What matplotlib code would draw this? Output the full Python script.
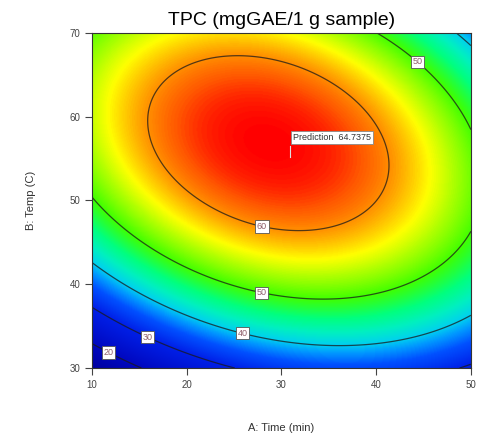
import numpy as np
import matplotlib
matplotlib.use("Agg")
import matplotlib.pyplot as plt
from matplotlib.colors import LinearSegmentedColormap, Normalize

plt.rcParams['font.family'] = ['Liberation Sans', 'DejaVu Sans']

# ---- data (quadratic response-surface model, coded factors) ----
time_range = [10, 50]          # A: Time (min)
temp_range = [30, 70]          # B: Temp (C)
coef_names = ['b0', 'A', 'B', 'AB', 'A2', 'B2']
coef_values = [62.6, 0.9, 11.8, -7.5, -12.1, -18.0]

contour_levels = [20, 30, 40, 50, 60]
# where each contour label box sits (time, temp)
label_time = [11.9, 16.0, 25.9, 27.9, 27.9, 44.6]
label_temp = [32.2, 34.0, 34.2, 39.0, 46.7, 66.9]

pred_time = 30.9
pred_temp = 55.2
pred_value = 64.7375

# ---- surface ----
coef = dict(zip(coef_names, coef_values))
t = np.linspace(time_range[0], time_range[1], 400)
T = np.linspace(temp_range[0], temp_range[1], 400)
tt, TT = np.meshgrid(t, T)
A = (tt - np.mean(time_range)) / (np.diff(time_range)[0] / 2)
B = (TT - np.mean(temp_range)) / (np.diff(temp_range)[0] / 2)
z = (coef['b0'] + coef['A'] * A + coef['B'] * B + coef['AB'] * A * B
     + coef['A2'] * A ** 2 + coef['B2'] * B ** 2)

# Design-Expert like colour ramp, anchored at response values
zmin, zmax = z.min(), z.max()
anchors = [(zmin, '#0000a0'), (20, '#0008c0'), (30, '#0020e8'), (35, '#0050ff'),
           (38, '#0098ff'), (40, '#00d0f0'), (43, '#00f0c0'), (46, '#00ff80'),
           (50, '#40ff00'), (54, '#b0ff00'), (56.5, '#ffff00'), (58.5, '#ffc000'),
           (60, '#ff9000'), (62, '#ff5800'), (63.5, '#ff2000'), (zmax, '#ff0000')]
cmap = LinearSegmentedColormap.from_list(
    'de', [((v - zmin) / (zmax - zmin), c) for v, c in anchors])

fig = plt.figure(figsize=(4.81, 4.45), dpi=100)
ax = fig.add_axes([0.191, 0.173, 0.788, 0.753])

ax.imshow(z, origin='lower', aspect='auto', cmap=cmap,
          norm=Normalize(zmin, zmax),
          extent=[time_range[0], time_range[1], temp_range[0], temp_range[1]],
          interpolation='bilinear')
cs = ax.contour(tt, TT, z, levels=contour_levels, colors='#1a1a1a',
                linewidths=0.9, alpha=0.75)
labels = ax.clabel(cs, fmt='%d', fontsize=6.5, inline=False,
                   manual=list(zip(label_time, label_temp)), colors='#6a2a3a')
for lb in labels:
    lb.set_rotation(0)
    lb.set_bbox(dict(boxstyle='square,pad=0.18', fc='white', ec='#555555', lw=0.6))

# prediction flag
ax.plot([pred_time, pred_time], [pred_temp, pred_temp + 1.3], color='#dddddd', lw=0.8)
ax.text(pred_time + 0.3, pred_temp + 2.3, f'Prediction  {pred_value}', fontsize=6.5,
        color='#333333', va='center', ha='left',
        bbox=dict(boxstyle='square,pad=0.2', fc='white', ec='#888888', lw=0.6))

ax.set_xlim(time_range)
ax.set_ylim(temp_range)
ax.set_xticks([10, 20, 30, 40, 50])
ax.set_yticks([30, 40, 50, 60, 70])
ax.tick_params(labelsize=7, labelcolor='#444444', color='#444444',
               length=5, width=0.8, direction='out')
for s in ax.spines.values():
    s.set_color('#333333')
    s.set_linewidth(0.8)

ax.set_title('TPC (mgGAE/1 g sample)', fontsize=14, pad=6)
ax.set_xlabel('A: Time (min)', fontsize=8, color='#333333', labelpad=24)
ax.set_ylabel('B: Temp (C)', fontsize=8, color='#333333', labelpad=24)

fig.savefig('out.png', dpi=100)
